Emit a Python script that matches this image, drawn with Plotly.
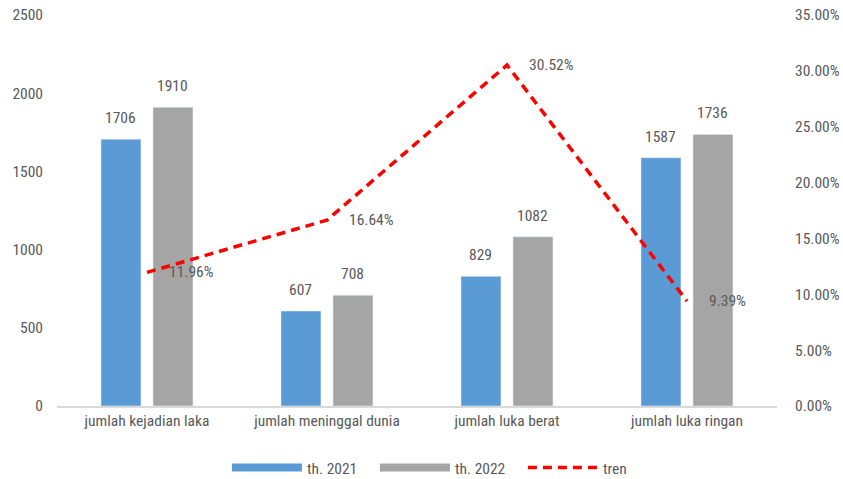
import plotly.graph_objects as go

categories = ["jumlah kejadian laka", "jumlah meninggal dunia", "jumlah luka berat", "jumlah luka ringan"]
th_2021 = [1706, 607, 829, 1587]
th_2022 = [1910, 708, 1082, 1736]
tren = [0.1196, 0.1664, 0.3052, 0.0939]
tren_labels = ["11.96%", "16.64%", "30.52%", "9.39%"]

FONT = "Liberation Sans Narrow, Roboto Condensed, Arial Narrow, sans-serif"
FS = 15.5
TXT = "#595959"
BLUE = "#5B9BD5"
GRAY = "#A5A5A5"
RED = "#FF0000"
DASH = "9px,6px"

BAR_W = 0.222
OFF_A = -0.2556
OFF_B = 0.0333

fig = go.Figure()

fig.add_trace(go.Bar(x=categories, y=th_2021, name="th. 2021", marker_color=BLUE,
                     width=BAR_W, offset=OFF_A, showlegend=False))
fig.add_trace(go.Bar(x=categories, y=th_2022, name="th. 2022", marker_color=GRAY,
                     width=BAR_W, offset=OFF_B, showlegend=False))
fig.add_trace(go.Scatter(x=categories, y=tren, name="tren", mode="lines",
                         line=dict(color=RED, width=3.5, dash=DASH),
                         yaxis="y2", showlegend=False))

# legend entries drawn as wide line swatches
fig.add_trace(go.Scatter(x=[None], y=[None], mode="lines", name="th. 2021",
                         line=dict(color=BLUE, width=8)))
fig.add_trace(go.Scatter(x=[None], y=[None], mode="lines", name="th. 2022",
                         line=dict(color=GRAY, width=8)))
fig.add_trace(go.Scatter(x=[None], y=[None], mode="lines", name="tren",
                         line=dict(color=RED, width=3.5, dash=DASH)))

annotations = []
# value labels above the bars
for vals, off in ((th_2021, OFF_A), (th_2022, OFF_B)):
    for i, v in enumerate(vals):
        annotations.append(dict(x=i + off + BAR_W / 2, y=v, xref="x", yref="y",
                                text=str(v), showarrow=False, yshift=21,
                                font=dict(family=FONT, size=FS, color=TXT)))
# percentage labels to the right of the trend points
for i, (v, t) in enumerate(zip(tren, tren_labels)):
    annotations.append(dict(x=i, y=v, xref="x", yref="y2", text=t, showarrow=False,
                            xanchor="left", xshift=20,
                            font=dict(family=FONT, size=FS, color=TXT)))

fig.update_layout(
    width=843, height=479,
    margin=dict(l=57, r=66, t=15, b=73),
    paper_bgcolor="white", plot_bgcolor="white",
    barmode="overlay",
    font=dict(family=FONT, size=FS, color=TXT),
    annotations=annotations,
    xaxis=dict(showline=True, linecolor="#D9D9D9", linewidth=1.5, ticks="",
               range=[-0.5, 3.5], automargin=False,
               tickfont=dict(family=FONT, size=FS, color=TXT), showgrid=False),
    yaxis=dict(range=[0, 2500], dtick=500, showgrid=False, zeroline=False,
               ticks="", ticklabelstandoff=13, automargin=False,
               tickfont=dict(family=FONT, size=FS, color=TXT)),
    yaxis2=dict(range=[0, 0.35], dtick=0.05, tickformat=".2%", overlaying="y",
                side="right", showgrid=False, zeroline=False, ticks="",
                ticklabelstandoff=17, automargin=False,
                tickfont=dict(family=FONT, size=FS, color=TXT)),
    legend=dict(orientation="h", x=0.236, xanchor="left",
                yref="container", y=0.023, yanchor="middle",
                itemwidth=70, entrywidth=63, entrywidthmode="pixels",
                font=dict(family=FONT, size=FS, color=TXT),
                traceorder="normal"),
)

fig.write_html("out.html")
